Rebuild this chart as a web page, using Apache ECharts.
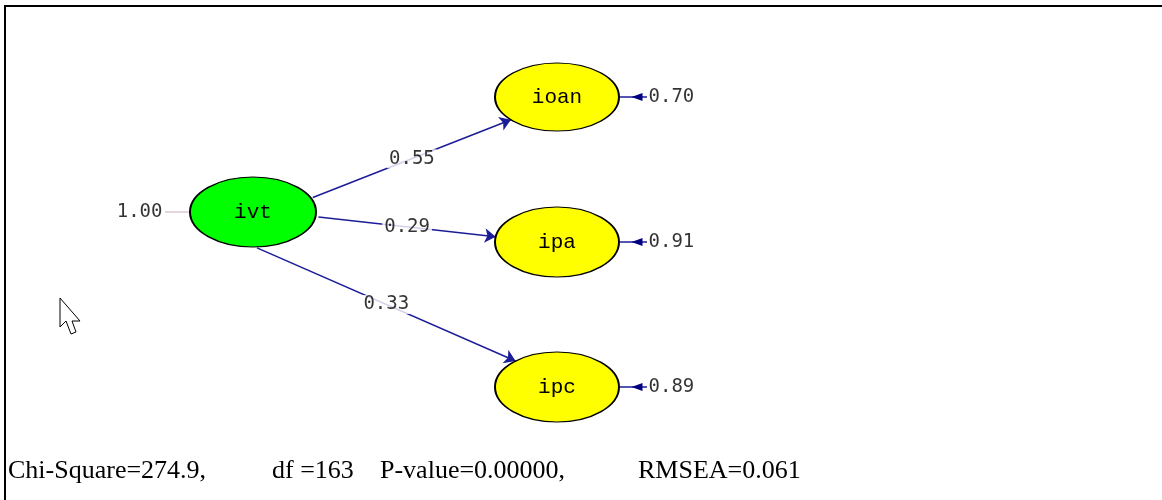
<!DOCTYPE html>
<html>
<head>
<meta charset="utf-8">
<script src="https://cdn.jsdelivr.net/npm/echarts@6/dist/echarts.min.js"></script>
<style>
html,body{margin:0;padding:0;background:#fff;}
#chart{width:1162px;height:500px;}
</style>
</head>
<body>
<div id="chart"></div>
<script>
// ---- data ----
const nodeNames = ['ivt', 'ioan', 'ipa', 'ipc'];
const pathSource = 'ivt';
const pathTargets = ['ioan', 'ipa', 'ipc'];
const pathCoefs = [0.55, 0.29, 0.33];
const errorTargets = ['ioan', 'ipa', 'ipc'];
const errorVars = [0.70, 0.91, 0.89];
const exoVariance = [1.00];
const fitStats = ['Chi-Square=274.9,', 'df =163', 'P-value=0.00000,', 'RMSEA=0.061'];

// ---- layout (diagram geometry, not data) ----
const nodeLayout = {
  ivt:  { c: [253, 212], r: [63, 35], fill: '#00ff00' },
  ioan: { c: [557, 97],  r: [62, 34], fill: '#ffff00' },
  ipa:  { c: [557, 242], r: [62, 35], fill: '#ffff00' },
  ipc:  { c: [557, 387], r: [62, 35], fill: '#ffff00' }
};
// anchor angles (deg) on source / target ellipse, with small pad
const pathAnchors = [
  { s: -23, sp: 2, t: 138, tp: 0 },
  { s: 7.4, sp: 3, t: 188.6, tp: 0 },
  { s: 86.4, sp: 1, t: 228, tp: 0 }
];
const fitStatX = [8, 272, 380, 638];

function anchor(name, deg, pad) {
  const n = nodeLayout[name];
  const a = deg * Math.PI / 180;
  return [n.c[0] + (n.r[0] + pad) * Math.cos(a), n.c[1] + (n.r[1] + pad) * Math.sin(a)];
}

const ellipsePath = 'path://M0,50C0,22.4 22.4,0 50,0C77.6,0 100,22.4 100,50C100,77.6 77.6,100 50,100C22.4,100 0,77.6 0,50Z';

const navy = '#1c1c98';

const structLines = pathTargets.map((t, i) => {
  const p = pathAnchors[i];
  return { coords: [anchor(pathSource, p.s, p.sp), anchor(t, p.t, p.tp)] };
});
const structLabels = structLines.map((l, i) => ({
  value: [(l.coords[0][0] + l.coords[1][0]) / 2, (l.coords[0][1] + l.coords[1][1]) / 2],
  label: pathCoefs[i].toFixed(2)
}));

const errLines = errorTargets.map(t => {
  const e = anchor(t, 0, 0);
  return { coords: [[e[0] + 28, e[1]], [e[0] + 1, e[1]]] };
});
const errHeads = errorTargets.map(t => {
  const e = anchor(t, 0, 0);
  return [e[0] + 18, e[1]];
});
const errLabels = errorTargets.map((t, i) => {
  const e = anchor(t, 0, 0);
  return { value: [e[0] + 29, e[1]], label: errorVars[i].toFixed(2) };
});

const exoStart = anchor(pathSource, 180, 0);
const exoLine = [{ coords: [[exoStart[0] - 25, exoStart[1]], [exoStart[0] - 1, exoStart[1]]] }];
const exoLabel = [{ value: [exoStart[0] - 27, exoStart[1]], label: exoVariance[0].toFixed(2) }];

const monoFont = '"DejaVu Sans Mono", monospace';

const chart = echarts.init(document.getElementById('chart'), null, { renderer: 'canvas' });
chart.setOption({
  backgroundColor: '#ffffff',
  animation: false,
  grid: { left: 0, right: 0, top: 0, bottom: 0 },
  xAxis: { type: 'value', min: 0, max: 1162, show: false },
  yAxis: { type: 'value', min: 0, max: 500, inverse: true, show: false },
  series: [
    {
      type: 'lines', coordinateSystem: 'cartesian2d', silent: true, z: 2,
      symbol: ['none', 'arrow'], symbolSize: 11,
      lineStyle: { color: navy, width: 1.5, opacity: 1 },
      data: structLines
    },
    {
      type: 'lines', coordinateSystem: 'cartesian2d', silent: true, z: 2,
      symbol: ['none', 'none'],
      lineStyle: { color: navy, width: 1.5, opacity: 1 },
      data: errLines
    },
    {
      type: 'lines', coordinateSystem: 'cartesian2d', silent: true, z: 2,
      symbol: ['none', 'none'],
      lineStyle: { color: '#dccad6', width: 1.5, opacity: 1 },
      data: exoLine
    },
    {
      type: 'scatter', silent: true, z: 3,
      symbol: 'triangle', symbolSize: [8, 11], symbolRotate: 90,
      itemStyle: { color: '#000080', opacity: 1 },
      data: errHeads
    },
    {
      type: 'scatter', silent: true, z: 4,
      symbol: ellipsePath,
      data: nodeNames.map(n => ({
        name: n,
        value: nodeLayout[n].c,
        symbolSize: [nodeLayout[n].r[0] * 2, nodeLayout[n].r[1] * 2],
        itemStyle: { color: nodeLayout[n].fill, borderColor: '#000', borderWidth: 1.5, opacity: 1 }
      })),
      label: {
        show: true, position: 'inside', formatter: '{b}',
        color: '#000', fontFamily: '"Liberation Mono", monospace', fontSize: 21
      }
    },
    {
      type: 'scatter', silent: true, z: 5,
      symbolSize: 1, itemStyle: { color: 'rgba(0,0,0,0)' },
      data: structLabels.map(d => ({ value: d.value, name: d.label })),
      label: {
        show: true, position: 'inside', formatter: '{b}',
        color: '#000', fontFamily: monoFont, fontSize: 19,
        backgroundColor: '#fff', padding: [0, 2]
      }
    },
    {
      type: 'scatter', silent: true, z: 5,
      symbolSize: 1, itemStyle: { color: 'rgba(0,0,0,0)' },
      data: errLabels.map(d => ({ value: d.value, name: d.label })),
      label: {
        show: true, position: 'right', distance: 0, formatter: '{b}',
        color: '#000', fontFamily: monoFont, fontSize: 19
      }
    },
    {
      type: 'scatter', silent: true, z: 5,
      symbolSize: 1, itemStyle: { color: 'rgba(0,0,0,0)' },
      data: exoLabel.map(d => ({ value: d.value, name: d.label })),
      label: {
        show: true, position: 'left', distance: 0, formatter: '{b}',
        color: '#000', fontFamily: monoFont, fontSize: 19
      }
    }
  ],
  graphic: [
    { type: 'line', shape: { x1: 4, y1: 6, x2: 1162, y2: 6 }, style: { stroke: '#000', lineWidth: 2 }, silent: true },
    { type: 'line', shape: { x1: 5, y1: 5, x2: 5, y2: 500 }, style: { stroke: '#000', lineWidth: 2 }, silent: true },
    {
      type: 'polygon', silent: true,
      shape: { points: [[60, 298], [60, 327], [66, 321], [71, 334], [76, 332], [72, 321], [80, 321]] },
      style: { fill: '#fff', stroke: '#000', lineWidth: 1 }
    }
  ].concat(fitStats.map((s, i) => ({
    type: 'text', silent: true, x: fitStatX[i], y: 471,
    style: { text: s, fill: '#000', font: '26px "Liberation Serif", serif', textVerticalAlign: 'middle' }
  })))
});
</script>
</body>
</html>
